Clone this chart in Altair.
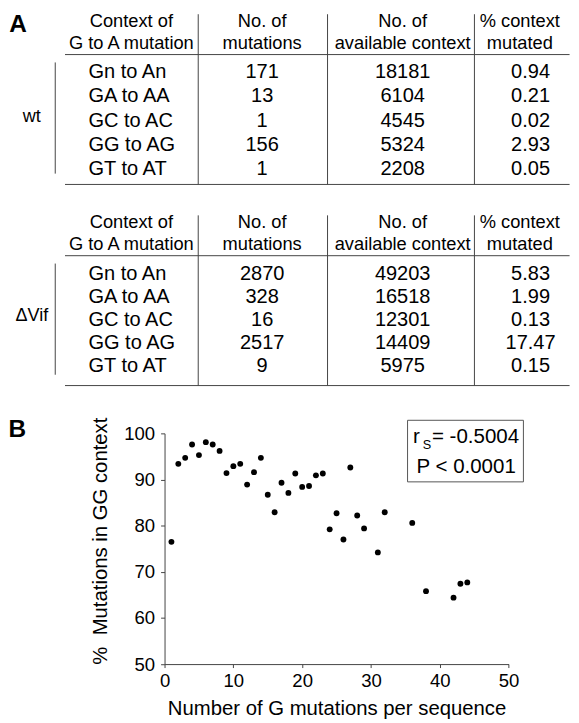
import altair as alt
import pandas as pd

# ---------------- data ----------------
header_texts = ["Context of\nG to A mutation", "No. of\nmutations",
                "No. of\navailable context", "% context\nmutated"]
contexts = ["Gn to An", "GA to AA", "GC to AC", "GG to AG", "GT to AT"]

wt_mutations = [171, 13, 1, 156, 1]
wt_available = [18181, 6104, 4545, 5324, 2208]
wt_percent = [0.94, 0.21, 0.02, 2.93, 0.05]

vif_mutations = [2870, 328, 16, 2517, 9]
vif_available = [49203, 16518, 12301, 14409, 5975]
vif_percent = [5.83, 1.99, 0.13, 17.47, 0.15]

g_mutations = [1, 2, 3, 4, 5, 6, 7, 8, 9, 10, 11, 12, 13, 14, 15, 16, 17, 18,
               19, 20, 21, 22, 23, 24, 25, 26, 27, 28, 29, 31, 32, 36, 38, 42,
               43, 44]
pct_gg = [76.5, 93.4, 94.7, 97.6, 95.3, 98.1, 97.6, 96.2, 91.4, 92.9, 93.4,
          88.9, 91.6, 94.7, 86.7, 82.9, 89.3, 87.1, 91.3, 88.4, 88.6, 90.9,
          91.3, 79.2, 82.7, 77.0, 92.6, 82.2, 79.4, 74.2, 82.9, 80.6, 65.8,
          64.4, 67.4, 67.7]

stats_r = "= -0.5004"
stats_p = "P < 0.0001"

# ---------------- layout helpers ----------------
SX = 0.985
SY = 0.993
FONT = "Liberation Sans"
LINE = "#444444"
VIEW_LEFT = 160.0


def fs(v):
    return round(v * SX, 2)


def rx(v):
    return round((v - VIEW_LEFT) * SX, 2)


def ry(v, top):
    return round((v - top) * SY, 2)


one = pd.DataFrame({"k": [0]})


def rule(x, y, x2=None, y2=None):
    enc = dict(x=alt.value(x), y=alt.value(y))
    if x2 is not None:
        enc["x2"] = alt.value(x2)
    if y2 is not None:
        enc["y2"] = alt.value(y2)
    return alt.Chart(one).mark_rule(color=LINE, strokeWidth=1).encode(**enc)


def label(text, x, y, size, align="center", weight="normal"):
    return alt.Chart(pd.DataFrame({"t": [text]})).mark_text(
        align=align, baseline="alphabetic", fontSize=size, font=FONT,
        fontWeight=weight, color="black"
    ).encode(x=alt.value(x), y=alt.value(y), text="t:N")


DATA_FS = fs(20.5)
HEAD_FS = fs(18.7)


def table(group, muts, avail, pct, origin, view_top, view_bottom,
          row_first, row_last, head_base, panel=None):
    def ty(off):
        return ry(origin + off, view_top)

    df = pd.DataFrame({"idx": list(range(len(contexts))), "context": contexts,
                       "mutations": [str(v) for v in muts],
                       "available": [str(v) for v in avail],
                       "percent": pct})
    base = alt.Chart(df)
    yenc = alt.Y("idx:Q", axis=None,
                 scale=alt.Scale(domain=[0, 4],
                                 range=[ty(row_first), ty(row_last)],
                                 zero=False, nice=False))
    tk = dict(baseline="alphabetic", fontSize=DATA_FS, font=FONT, color="black")
    layers = [
        base.mark_text(align="left", **tk).encode(
            x=alt.value(rx(82)), y=yenc, text="context:N"),
        base.mark_text(align="center", **tk).encode(
            x=alt.value(rx(260)), y=yenc, text="mutations:N"),
        base.mark_text(align="center", **tk).encode(
            x=alt.value(rx(404)), y=yenc, text="available:N"),
        base.mark_text(align="center", **tk).encode(
            x=alt.value(rx(535)), y=yenc,
            text=alt.Text("percent:Q", format=".2f")),
    ]
    head_x = [126, 260, 404, 524]
    for htxt, hx in zip(header_texts, head_x):
        layers.append(
            alt.Chart(pd.DataFrame({"h": [htxt]})).mark_text(
                align="center", baseline="alphabetic", fontSize=HEAD_FS,
                font=FONT, lineBreak="\n", lineHeight=round(22.5 * SY, 2),
                color="black"
            ).encode(x=alt.value(rx(hx)), y=alt.value(ty(head_base)), text="h:N"))
    # grid lines
    layers.append(rule(rx(58), ty(46), x2=rx(575)))
    layers.append(rule(rx(58), ty(178), x2=rx(575)))
    for dx in [194.5, 327, 477.5]:
        layers.append(rule(rx(dx), ty(5), y2=ty(178)))
    layers.append(rule(rx(48), ty(54), y2=ty(167)))
    mid = (row_first + row_last) / 2.0
    layers.append(label(group, rx(24), ty(mid - 5), fs(18.5)))
    if panel:
        layers.append(label(panel, rx(10), ty(23), fs(25), weight="bold"))
        # invisible anchor fixing the top-left corner of the whole figure
        layers.append(alt.Chart(one).mark_rect(fill="white", opacity=0).encode(
            x=alt.value(rx(0)), x2=alt.value(rx(2)),
            y=alt.value(ry(view_top, view_top)),
            y2=alt.value(ry(view_top + 2, view_top))))
    return alt.layer(*layers).properties(
        width=round(352.5 * SX, 2),
        height=round((view_bottom - view_top) * SY, 2))


t1 = table("wt", wt_mutations, wt_available, wt_percent,
           origin=0, view_top=2, view_bottom=204,
           row_first=70, row_last=168.5, head_base=18.3, panel="A")
t2 = table("\u0394Vif", vif_mutations, vif_available, vif_percent,
           origin=204, view_top=204, view_bottom=430,
           row_first=71, row_last=164.5, head_base=18)

# ---------------- scatter ----------------
PTOP = 430.0
pts = pd.DataFrame({"n": g_mutations, "pct": pct_gg})

x_enc = alt.X("n:Q", scale=alt.Scale(domain=[0, 50], nice=False, zero=False),
              axis=alt.Axis(values=[0, 10, 20, 30, 40, 50], grid=False,
                            title="Number of G mutations per sequence",
                            titleFontSize=fs(20.8), titleFontWeight="normal",
                            titleBaseline="alphabetic",
                            titleY=round(51.5 * SY, 2),
                            labelFontSize=fs(19), labelFlush=False,
                            labelPadding=4, tickSize=3.5,
                            domainColor=LINE, tickColor=LINE,
                            labelColor="black", titleColor="black",
                            labelFont=FONT, titleFont=FONT))
y_enc = alt.Y("pct:Q", scale=alt.Scale(domain=[50, 100], nice=False, zero=False),
              axis=alt.Axis(values=[50, 60, 70, 80, 90, 100], grid=False,
                            title="%\u00a0\u00a0Mutations in GG context",
                            titleFontSize=fs(20.8), titleFontWeight="normal",
                            titleBaseline="alphabetic", titleX=rx(101),
                            titleY=ry(539, PTOP), titleAngle=270,
                            labelFontSize=fs(19), labelFlush=False,
                            labelPadding=6, tickSize=4,
                            domainColor=LINE, tickColor=LINE,
                            labelColor="black", titleColor="black",
                            labelFont=FONT, titleFont=FONT))

points = alt.Chart(pts).mark_circle(size=35, color="black", opacity=1).encode(
    x=x_enc, y=y_enc)

box = alt.Chart(one).mark_rect(fill="white", stroke="#555555", strokeWidth=1).encode(
    x=alt.value(rx(409)), x2=alt.value(rx(527.7)),
    y=alt.value(ry(416.7, PTOP)), y2=alt.value(ry(479.3, PTOP)))

STAT_FS = fs(21)
r_txt = label("r", rx(414.5), ry(440, PTOP), STAT_FS, align="left")
s_txt = label("S", rx(424.5), ry(445.5, PTOP), fs(13), align="left")
rv_txt = label(stats_r, rx(434), ry(440, PTOP), STAT_FS, align="left")
p_txt = label(stats_p, rx(469), ry(470, PTOP), STAT_FS, align="center")
b_txt = label("B", rx(9), ry(433.5, PTOP), fs(25), weight="bold")

scatter = alt.layer(points, box, r_txt, s_txt, rv_txt, p_txt, b_txt).properties(
    width=round(352.5 * SX, 2), height=round(234.5 * SY, 2))

chart = alt.vconcat(t1, t2, scatter, spacing=0, bounds="flush").properties(
    padding=0
).configure(font=FONT).configure_view(stroke=None)

chart.save("out.html", embed_options={"renderer": "svg", "actions": False})
